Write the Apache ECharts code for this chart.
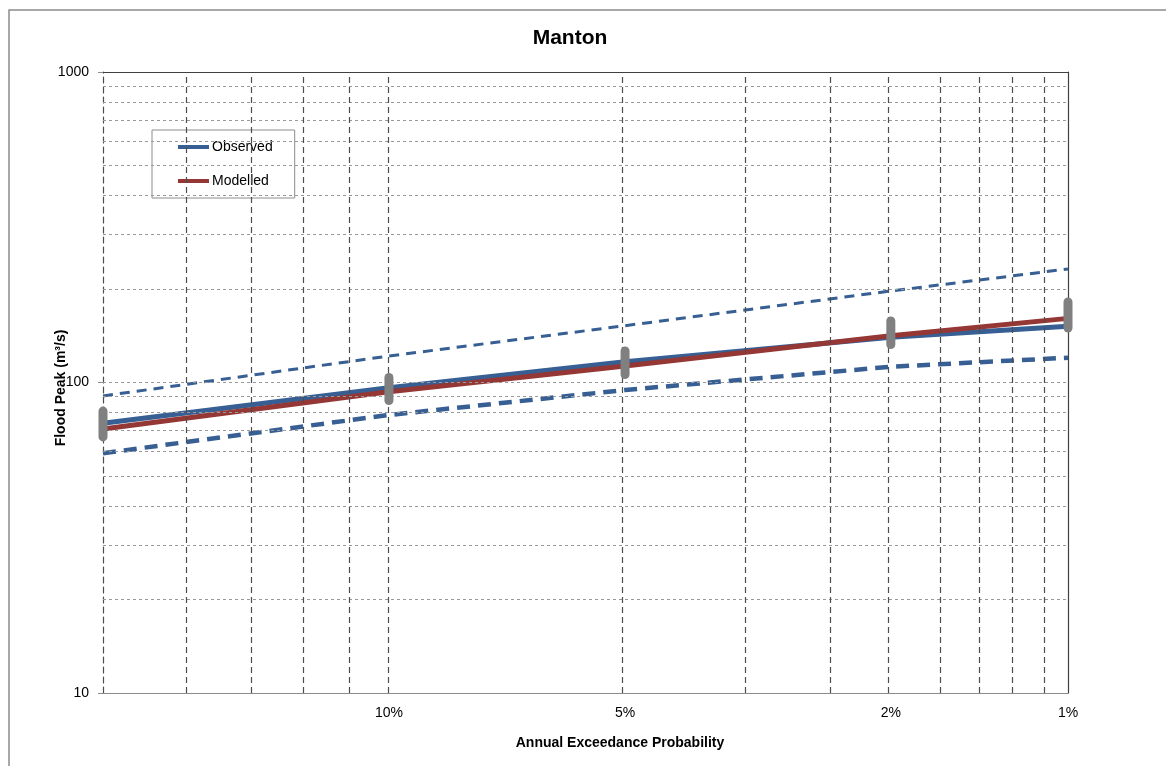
<!DOCTYPE html>
<html>
<head>
<meta charset="utf-8">
<title>Manton</title>
<script src="https://cdn.jsdelivr.net/npm/echarts@6/dist/echarts.min.js"></script>
<style>
  html, body { margin: 0; padding: 0; background: #fff; }
  #chart { width: 1166px; height: 766px; }
</style>
</head>
<body>
<div id="chart"></div>
<script>
// Annual exceedance probabilities at which the flood peaks are reported
const aeps = [0.2, 0.1, 0.05, 0.02, 0.01];
// Flood peaks (m³/s)
const observed   = [73.9, 96.2, 116.7, 139.8, 151.7];
const modelled   = [70.8, 93.4, 113.0, 141.5, 160.9];
const upperBound = [90.5, 121.7, 152.4, 197.1, 232.1];
const lowerBound = [59.2, 78.6, 94.6, 112.4, 120.2];
// Spread of the modelled ensemble at each probability
const ensembleLow  = [66.8, 87.5, 106.1, 132.6, 149.8];
const ensembleHigh = [80.9, 103.8, 126.3, 157.8, 181.7];

// Axis labelling and grid positions
const tickAeps   = [0.1, 0.05, 0.02, 0.01];
const tickLabels = ['10%', '5%', '2%', '1%'];
const gridAris   = [6, 7, 8, 9, 10, 20, 30, 40, 50, 60, 70, 80, 90];
const gridFlows  = [20, 30, 40, 50, 60, 70, 80, 90, 100, 200, 300, 400, 500, 600, 700, 800, 900];

// Inverse of the standard normal CDF (Acklam's rational approximation)
function normInv(p) {
  const a = [-3.969683028665376e+01, 2.209460984245205e+02, -2.759285104469687e+02,
             1.383577518672690e+02, -3.066479806614716e+01, 2.506628277459239e+00];
  const b = [-5.447609879822406e+01, 1.615858368580409e+02, -1.556989798598866e+02,
             6.680131188771972e+01, -1.328068155288572e+01];
  const c = [-7.784894002430293e-03, -3.223964580411365e-01, -2.400758277161838e+00,
             -2.549671180376305e+00, 4.374664141464968e+00, 2.938163982698783e+00];
  const d = [7.784695709041462e-03, 3.224671290700398e-01, 2.445134137142996e+00,
             3.754408181268560e+00];
  const plow = 0.02425, phigh = 1 - plow;
  let q, r;
  if (p < plow) {
    q = Math.sqrt(-2 * Math.log(p));
    return (((((c[0]*q+c[1])*q+c[2])*q+c[3])*q+c[4])*q+c[5]) /
           ((((d[0]*q+d[1])*q+d[2])*q+d[3])*q+1);
  }
  if (p <= phigh) {
    q = p - 0.5; r = q * q;
    return (((((a[0]*r+a[1])*r+a[2])*r+a[3])*r+a[4])*r+a[5])*q /
           (((((b[0]*r+b[1])*r+b[2])*r+b[3])*r+b[4])*r+1);
  }
  q = Math.sqrt(-2 * Math.log(1 - p));
  return -(((((c[0]*q+c[1])*q+c[2])*q+c[3])*q+c[4])*q+c[5]) /
          ((((d[0]*q+d[1])*q+d[2])*q+d[3])*q+1);
}
// Normal probability paper: position = standard normal variate of non-exceedance
const zOf = aep => normInv(1 - aep);

const xMin = zOf(aeps[0]);
const xMax = zOf(aeps[aeps.length - 1]);
const tickZ = tickAeps.map(zOf);

const pairs = vals => aeps.map((p, i) => [zOf(p), vals[i]]);

const BLUE = '#375f93';
const RED = '#953735';
const GREY = '#808080';
const FONT = 'Liberation Sans, Arial, sans-serif';

const series = [
  {
    name: 'grid',
    type: 'line',
    data: [[xMin, 10]],
    showSymbol: false,
    silent: true,
    z: 1,
    lineStyle: { width: 0 },
    markLine: {
      silent: true,
      symbol: 'none',
      label: { show: false },
      animation: false,
      data: [
        ...gridFlows.map(v => ({ yAxis: v, lineStyle: { color: '#9a9a9a', width: 1, type: [3, 3] } })),
        ...gridAris.map(t => ({ xAxis: zOf(1 / t), lineStyle: { color: '#4d4d4d', width: 1.2, type: [6, 4] } })),
        { yAxis: 1000, lineStyle: { color: '#404040', width: 1.2, type: 'solid' } }
      ]
    }
  },
  {
    name: 'Upper',
    type: 'line',
    data: pairs(upperBound),
    showSymbol: false,
    z: 3,
    lineStyle: { color: BLUE, width: 3, type: [10, 7] }
  },
  {
    name: 'Lower',
    type: 'line',
    data: pairs(lowerBound),
    showSymbol: false,
    z: 3,
    lineStyle: { color: BLUE, width: 4.5, type: [13, 8] }
  },
  {
    name: 'Observed',
    type: 'line',
    data: pairs(observed),
    showSymbol: false,
    z: 4,
    itemStyle: { color: BLUE },
    lineStyle: { color: BLUE, width: 5 }
  },
  {
    name: 'Modelled',
    type: 'line',
    data: pairs(modelled),
    showSymbol: false,
    z: 4,
    itemStyle: { color: RED },
    lineStyle: { color: RED, width: 5 }
  }
];

// Ensemble spread drawn as a grey capsule at each probability
aeps.forEach((p, i) => {
  series.push({
    name: 'Ensemble',
    type: 'line',
    data: [[zOf(p), ensembleLow[i]], [zOf(p), ensembleHigh[i]]],
    showSymbol: false,
    z: 5,
    lineStyle: { color: GREY, width: 9, cap: 'round' }
  });
});

const chart = echarts.init(document.getElementById('chart'), null, { renderer: 'canvas' });
chart.setOption({
  animation: false,
  backgroundColor: '#ffffff',
  textStyle: { fontFamily: FONT },
  title: {
    text: 'Manton',
    left: 570,
    top: 28,
    textAlign: 'center',
    padding: 0,
    textStyle: { fontSize: 21, fontWeight: 'bold', color: '#000', fontFamily: FONT }
  },
  legend: {
    data: ['Observed', 'Modelled'],
    orient: 'vertical',
    left: 152,
    top: 130,
    icon: 'rect',
    itemWidth: 31,
    itemHeight: 4,
    itemGap: 20,
    padding: [10, 22, 10, 26],
    backgroundColor: '#fff',
    borderColor: '#8c8c8c',
    borderWidth: 1,
    borderRadius: 0,
    selectedMode: false,
    textStyle: { fontSize: 14, color: '#000', padding: [0, 0, 0, -2], fontFamily: FONT }
  },
  grid: { left: 103, right: 98, top: 72, bottom: 73, containLabel: false },
  xAxis: {
    type: 'value',
    min: xMin,
    max: xMax,
    axisLine: { show: true, lineStyle: { color: '#8c8c8c', width: 1.2 } },
    axisTick: { show: false },
    splitLine: { show: false },
    axisLabel: {
      customValues: tickZ,
      margin: 13,
      fontSize: 14,
      color: '#000',
      showMinLabel: true,
      showMaxLabel: true,
      formatter: v => {
        let best = 0;
        tickZ.forEach((z, i) => { if (Math.abs(z - v) < Math.abs(tickZ[best] - v)) best = i; });
        return tickLabels[best];
      }
    }
  },
  yAxis: [
    {
      type: 'log',
      logBase: 10,
      min: 10,
      max: 1000,
      position: 'left',
      axisLine: { show: true, lineStyle: { color: '#4d4d4d', width: 1.2, type: [6, 4] } },
      axisTick: { show: true, length: 5, inside: false, lineStyle: { color: '#8c8c8c', type: 'solid' } },
      splitLine: { show: false },
      axisLabel: { fontSize: 14, color: '#000', margin: 14, formatter: v => String(Math.round(v)) }
    },
    {
      type: 'log',
      logBase: 10,
      min: 10,
      max: 1000,
      position: 'right',
      axisLine: { show: true, lineStyle: { color: '#404040', width: 1.2 } },
      axisTick: { show: false },
      axisLabel: { show: false },
      splitLine: { show: false }
    }
  ],
  graphic: [
    {
      type: 'rect',
      silent: true,
      z: -1,
      shape: { x: 9, y: 10, width: 1300, height: 900 },
      style: { fill: 'none', stroke: '#8c8c8c', lineWidth: 1.5 }
    },
    {
      type: 'text',
      silent: true,
      x: 620,
      y: 743,
      style: {
        text: 'Annual Exceedance Probability',
        align: 'center',
        verticalAlign: 'middle',
        fontSize: 14,
        fontWeight: 'bold',
        fill: '#000',
        fontFamily: FONT
      }
    },
    {
      type: 'text',
      silent: true,
      x: 61,
      y: 388,
      rotation: Math.PI / 2,
      style: {
        text: 'Flood Peak (m³/s)',
        align: 'center',
        verticalAlign: 'middle',
        fontSize: 14,
        fontWeight: 'bold',
        fill: '#000',
        fontFamily: FONT
      }
    }
  ],
  series: series
});
</script>
</body>
</html>
